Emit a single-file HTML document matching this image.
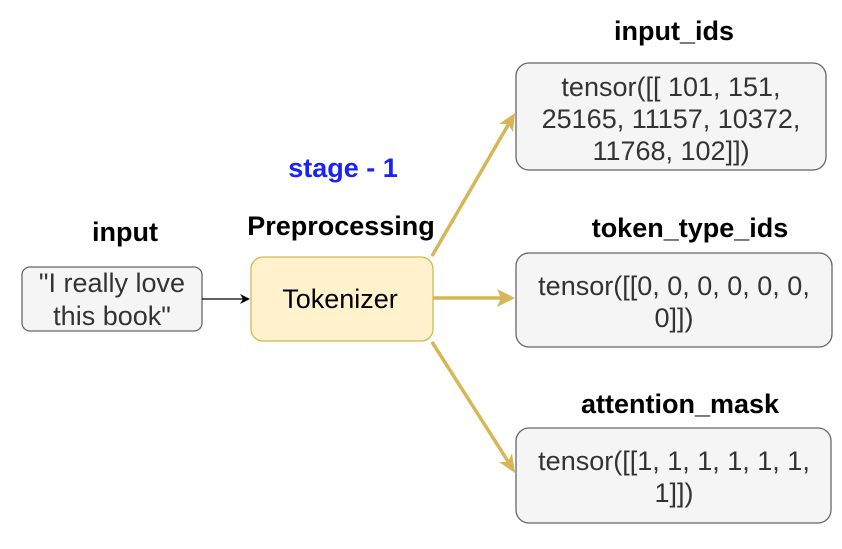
<!DOCTYPE html>
<html><head><style>
html,body{margin:0;padding:0;background:#fff;}
svg text{font-family:"Liberation Sans",Arial,sans-serif;}
</style></head><body>
<svg width="842" height="544" viewBox="0 0 842 544" xmlns="http://www.w3.org/2000/svg">
<g font-size="27" font-weight="bold" text-anchor="middle" fill="#000">
<text x="125" y="241">input</text>
<text x="341" y="235">Preprocessing</text>
<text x="343" y="177" fill="#1a22f5">stage - 1</text>
<text x="674" y="40">input_ids</text>
<text x="690" y="237">token_type_ids</text>
<text x="680" y="413">attention_mask</text>
</g>
<rect x="22" y="267" width="180" height="64" rx="8" fill="#f5f5f5" stroke="#666" stroke-width="1.3"/>
<rect x="251" y="257" width="182" height="84" rx="12" fill="#fff2cc" stroke="#d6b656" stroke-width="1.3"/>
<rect x="516" y="63" width="310" height="107" rx="13" fill="#f5f5f5" stroke="#666" stroke-width="1.3"/>
<rect x="516" y="253" width="316" height="94" rx="13" fill="#f5f5f5" stroke="#666" stroke-width="1.3"/>
<rect x="516" y="428" width="315" height="95" rx="13" fill="#f5f5f5" stroke="#666" stroke-width="1.3"/>
<line x1="202" y1="299" x2="248" y2="299" stroke="#000" stroke-width="1.2"/>
<path d="M240,294 L250,299 L240,304 L243,299 Z" fill="#000"/>
<g stroke="#d6b656" stroke-width="3.5" fill="none">
<line x1="432" y1="256" x2="511" y2="120"/>
<line x1="433" y1="298" x2="508" y2="298"/>
<line x1="432" y1="342" x2="511" y2="466"/>
</g>
<path d="M515,113 L513,132 L508,124 L499,124 Z" fill="#d6b656"/>
<path d="M515,298 L497,307 L501,298 L497,289 Z" fill="#d6b656"/>
<path d="M515,473 L499,462 L508,462 L512,453 Z" fill="#d6b656"/>
<g font-size="27" text-anchor="middle" fill="#333">
<text x="112" y="292">"I really love</text>
<text x="112" y="325">this book"</text>
<text x="340" y="308" fill="#000">Tokenizer</text>
<text x="671" y="96">tensor([[ 101, 151,</text>
<text x="671" y="128">25165, 11157, 10372,</text>
<text x="671" y="160">11768, 102]])</text>
<text x="674" y="295">tensor([[0, 0, 0, 0, 0, 0,</text>
<text x="674" y="327">0]])</text>
<text x="674" y="470">tensor([[1, 1, 1, 1, 1, 1,</text>
<text x="674" y="502">1]])</text>
</g>
</svg>
</body></html>
